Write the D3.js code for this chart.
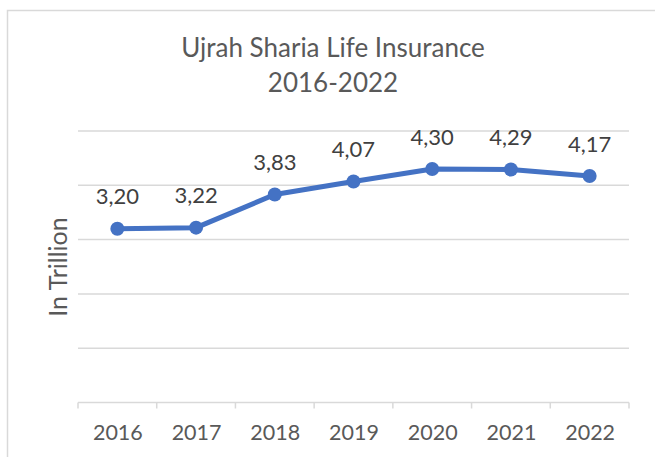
<!DOCTYPE html>
<html>
<head>
<meta charset="utf-8">
<script src="https://cdn.jsdelivr.net/npm/d3@7"></script>
<style>
  body { margin: 0; background: #fff; }
  text { font-family: Lato, "Open Sans", sans-serif; }
</style>
</head>
<body>
<div id="chart"></div>
<script>
const years = ["2016", "2017", "2018", "2019", "2020", "2021", "2022"];
const values = [3.20, 3.22, 3.83, 4.07, 4.30, 4.29, 4.17];
const yTicks = [0, 1, 2, 3, 4, 5];
const titleLines = ["Ujrah Sharia Life Insurance", "2016-2022"];

const width = 655, height = 457;

const svg = d3.select("#chart")
    .append("svg")
    .attr("width", width)
    .attr("height", height);

// chart frame (runs off the right and bottom edges)
svg.append("rect")
    .attr("x", 7.5)
    .attr("y", 10.5)
    .attr("width", 700)
    .attr("height", 500)
    .attr("fill", "#fff")
    .attr("stroke", "#d9d9d9")
    .attr("stroke-width", 1.5);

const x = d3.scalePoint()
    .domain(years)
    .range([78, 629])
    .padding(0.5);

const y = d3.scaleLinear()
    .domain([0, 5])
    .range([402.5, 131]);

// gridlines
svg.append("g")
    .selectAll("line")
    .data(yTicks.filter(d => d > 0))
    .enter().append("line")
    .attr("x1", 78)
    .attr("x2", 629)
    .attr("y1", d => y(d))
    .attr("y2", d => y(d))
    .attr("stroke", "#d9d9d9")
    .attr("stroke-width", 1.5);

// x axis with category separators
const xAxis = d3.axisBottom(x)
    .tickSize(0)
    .tickPadding(0);

const gx = svg.append("g")
    .attr("transform", `translate(0,${y(0)})`)
    .call(xAxis);

gx.select(".domain")
    .attr("d", "M78,0H629")
    .attr("stroke", "#d9d9d9")
    .attr("stroke-width", 1.5);

gx.selectAll(".tick text")
    .attr("y", 37.5)
    .attr("dy", 0)
    .attr("fill", "#595959")
    .attr("font-size", "21.5px");

const step = x.step();
svg.append("g")
    .selectAll("line")
    .data(d3.range(years.length + 1))
    .enter().append("line")
    .attr("x1", i => 78 + i * step)
    .attr("x2", i => 78 + i * step)
    .attr("y1", y(0))
    .attr("y2", y(0) + 6)
    .attr("stroke", "#d9d9d9")
    .attr("stroke-width", 1.5);

// line + markers
const line = d3.line()
    .x((d, i) => x(years[i]))
    .y(d => y(d));

svg.append("path")
    .datum(values)
    .attr("d", line)
    .attr("fill", "none")
    .attr("stroke", "#4472c4")
    .attr("stroke-width", 5)
    .attr("stroke-linejoin", "round");

svg.append("g")
    .selectAll("circle")
    .data(values)
    .enter().append("circle")
    .attr("cx", (d, i) => x(years[i]))
    .attr("cy", d => y(d))
    .attr("r", 7)
    .attr("fill", "#4472c4");

// data labels
svg.append("g")
    .selectAll("text")
    .data(values)
    .enter().append("text")
    .attr("x", (d, i) => x(years[i]))
    .attr("y", d => y(d) - 24.5)
    .attr("text-anchor", "middle")
    .attr("fill", "#404040")
    .attr("font-size", "22px")
    .text(d => d.toFixed(2).replace(".", ","));

// title
svg.append("g")
    .selectAll("text")
    .data(titleLines)
    .enter().append("text")
    .attr("x", 333)
    .attr("y", (d, i) => 57 + i * 35)
    .attr("text-anchor", "middle")
    .attr("fill", "#595959")
    .attr("font-size", "26px")
    .text(d => d);

// y axis title
svg.append("text")
    .attr("transform", "translate(67,267) rotate(-90)")
    .attr("text-anchor", "middle")
    .attr("fill", "#595959")
    .attr("font-size", "25px")
    .text("In Trillion");
</script>
</body>
</html>
